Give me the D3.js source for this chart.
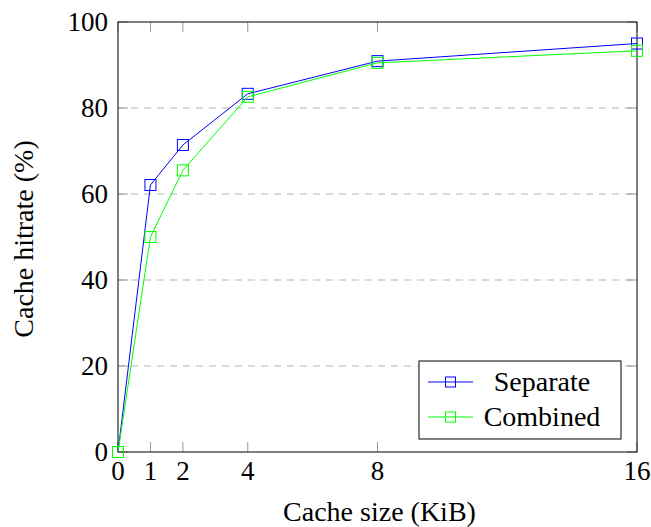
<!DOCTYPE html>
<html>
<head>
<meta charset="utf-8">
<script src="https://cdn.jsdelivr.net/npm/d3@7"></script>
<style>
  body { margin: 0; background: #fff; }
  text { font-family: "Liberation Serif", serif; fill: #000; }
</style>
</head>
<body>
<div id="chart"></div>
<script>
// Cache size (KiB) and hit rates (%)
const sizes = [0, 1, 2, 4, 8, 16];
const separate = [0, 62.1, 71.4, 83.3, 90.9, 95.0];
const combined = [0, 50.0, 65.5, 82.6, 90.5, 93.3];
const yTicks = [0, 20, 40, 60, 80, 100];

const width = 651, height = 527;
const margin = { top: 22, right: 14, bottom: 75, left: 118 };
const innerW = width - margin.left - margin.right;
const innerH = height - margin.top - margin.bottom;
const tickFont = '27px';
const labelFont = '28px';

const svg = d3.select('#chart').append('svg')
    .attr('width', width)
    .attr('height', height);

const g = svg.append('g')
    .attr('transform', `translate(${margin.left},${margin.top})`);

const xScale = d3.scaleLinear().domain([0, 16]).range([0, innerW]);
const yScale = d3.scaleLinear().domain([0, 100]).range([innerH, 0]);

// dashed gridlines
g.append('g')
    .selectAll('line')
    .data(yTicks.slice(1, -1))
    .join('line')
    .attr('x1', 0).attr('x2', innerW)
    .attr('y1', d => yScale(d)).attr('y2', d => yScale(d))
    .attr('stroke', '#b3b3b3')
    .attr('stroke-dasharray', '7,6');

// inward ticks on all four sides
const tickLen = 10;
g.append('g').selectAll('line')
    .data(sizes)
    .join('line')
    .attr('x1', d => xScale(d)).attr('x2', d => xScale(d))
    .attr('y1', innerH).attr('y2', innerH - tickLen)
    .attr('stroke', '#999');
g.append('g').selectAll('line')
    .data(sizes)
    .join('line')
    .attr('x1', d => xScale(d)).attr('x2', d => xScale(d))
    .attr('y1', 0).attr('y2', tickLen)
    .attr('stroke', '#999');
g.append('g').selectAll('line')
    .data(yTicks)
    .join('line')
    .attr('x1', 0).attr('x2', tickLen)
    .attr('y1', d => yScale(d)).attr('y2', d => yScale(d))
    .attr('stroke', '#999');
g.append('g').selectAll('line')
    .data(yTicks)
    .join('line')
    .attr('x1', innerW).attr('x2', innerW - tickLen)
    .attr('y1', d => yScale(d)).attr('y2', d => yScale(d))
    .attr('stroke', '#999');

// tick labels
g.append('g').selectAll('text')
    .data(sizes)
    .join('text')
    .attr('x', d => xScale(d))
    .attr('y', innerH + 28)
    .attr('text-anchor', 'middle')
    .style('font-size', tickFont)
    .text(d => d);

g.append('g').selectAll('text')
    .data(yTicks)
    .join('text')
    .attr('x', -10)
    .attr('y', d => yScale(d) + 9)
    .attr('text-anchor', 'end')
    .style('font-size', tickFont)
    .text(d => d);

// frame
g.append('rect')
    .attr('width', innerW).attr('height', innerH)
    .attr('fill', 'none')
    .attr('stroke', '#000');

// series
const series = [
    { name: 'Separate', values: separate, color: '#0000ff' },
    { name: 'Combined', values: combined, color: '#00ff00' }
];

const line = d3.line()
    .x((d, i) => xScale(sizes[i]))
    .y(d => yScale(d));

const ms = 11;
series.forEach(s => {
    g.append('path')
        .datum(s.values)
        .attr('d', line)
        .attr('fill', 'none')
        .attr('stroke', s.color)
        .attr('stroke-width', 1);
    g.append('g').selectAll('rect')
        .data(s.values)
        .join('rect')
        .attr('x', (d, i) => xScale(sizes[i]) - ms / 2)
        .attr('y', d => yScale(d) - ms / 2)
        .attr('width', ms).attr('height', ms)
        .attr('fill', 'none')
        .attr('stroke', s.color)
        .attr('stroke-width', 1);
});

// axis titles
svg.append('text')
    .attr('x', margin.left + innerW / 2 + 2)
    .attr('y', 521)
    .attr('text-anchor', 'middle')
    .style('font-size', labelFont)
    .text('Cache size (KiB)');

svg.append('text')
    .attr('transform', `translate(33,${margin.top + innerH / 2 + 2}) rotate(-90)`)
    .attr('text-anchor', 'middle')
    .style('font-size', labelFont)
    .text('Cache hitrate (%)');

// legend
const legend = svg.append('g').attr('transform', 'translate(419,361)');
legend.append('rect')
    .attr('width', 202).attr('height', 78)
    .attr('fill', '#fff')
    .attr('stroke', '#000');
series.forEach((s, i) => {
    const cy = 21 + i * 35;
    legend.append('line')
        .attr('x1', 9).attr('x2', 54)
        .attr('y1', cy).attr('y2', cy)
        .attr('stroke', s.color);
    legend.append('rect')
        .attr('x', 31.5 - 5).attr('y', cy - 5)
        .attr('width', 10).attr('height', 10)
        .attr('fill', 'none')
        .attr('stroke', s.color);
    legend.append('text')
        .attr('x', 123).attr('y', cy + 9)
        .attr('text-anchor', 'middle')
        .style('font-size', labelFont)
        .text(s.name);
});
</script>
</body>
</html>
